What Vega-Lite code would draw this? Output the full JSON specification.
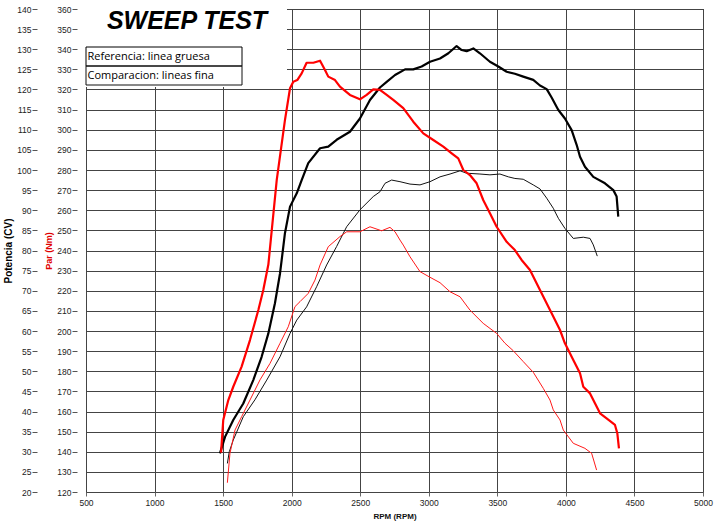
{
  "$schema": "https://vega.github.io/schema/vega-lite/v6.json",
  "width": 617,
  "height": 483,
  "autosize": {"type": "none"},
  "padding": {"left": 86, "top": 9, "right": 13, "bottom": 38},
  "background": "white",
  "datasets": {
    "potencia": [
      {"rpm":1477,"cv":29.6,"tipo":"Referencia: linea gruesa"},{"rpm":1514,"cv":33.7,"tipo":"Referencia: linea gruesa"},{"rpm":1574,"cv":37.9,"tipo":"Referencia: linea gruesa"},{"rpm":1647,"cv":42.0,"tipo":"Referencia: linea gruesa"},{"rpm":1720,"cv":47.8,"tipo":"Referencia: linea gruesa"},{"rpm":1781,"cv":53.6,"tipo":"Referencia: linea gruesa"},{"rpm":1830,"cv":59.4,"tipo":"Referencia: linea gruesa"},{"rpm":1878,"cv":66.9,"tipo":"Referencia: linea gruesa"},{"rpm":1915,"cv":74.3,"tipo":"Referencia: linea gruesa"},{"rpm":1927,"cv":77.6,"tipo":"Referencia: linea gruesa"},{"rpm":1951,"cv":84.3,"tipo":"Referencia: linea gruesa"},{"rpm":1988,"cv":90.9,"tipo":"Referencia: linea gruesa"},{"rpm":2037,"cv":94.2,"tipo":"Referencia: linea gruesa"},{"rpm":2073,"cv":97.5,"tipo":"Referencia: linea gruesa"},{"rpm":2121,"cv":101.7,"tipo":"Referencia: linea gruesa"},{"rpm":2207,"cv":105.4,"tipo":"Referencia: linea gruesa"},{"rpm":2267,"cv":105.8,"tipo":"Referencia: linea gruesa"},{"rpm":2328,"cv":107.5,"tipo":"Referencia: linea gruesa"},{"rpm":2425,"cv":109.5,"tipo":"Referencia: linea gruesa"},{"rpm":2498,"cv":112.8,"tipo":"Referencia: linea gruesa"},{"rpm":2571,"cv":117.4,"tipo":"Referencia: linea gruesa"},{"rpm":2644,"cv":120.5,"tipo":"Referencia: linea gruesa"},{"rpm":2693,"cv":121.9,"tipo":"Referencia: linea gruesa"},{"rpm":2754,"cv":123.6,"tipo":"Referencia: linea gruesa"},{"rpm":2827,"cv":125.0,"tipo":"Referencia: linea gruesa"},{"rpm":2887,"cv":125.0,"tipo":"Referencia: linea gruesa"},{"rpm":2948,"cv":125.7,"tipo":"Referencia: linea gruesa"},{"rpm":3009,"cv":126.9,"tipo":"Referencia: linea gruesa"},{"rpm":3082,"cv":127.7,"tipo":"Referencia: linea gruesa"},{"rpm":3143,"cv":129.0,"tipo":"Referencia: linea gruesa"},{"rpm":3203,"cv":130.8,"tipo":"Referencia: linea gruesa"},{"rpm":3240,"cv":129.8,"tipo":"Referencia: linea gruesa"},{"rpm":3276,"cv":129.5,"tipo":"Referencia: linea gruesa"},{"rpm":3325,"cv":130.2,"tipo":"Referencia: linea gruesa"},{"rpm":3373,"cv":129.0,"tipo":"Referencia: linea gruesa"},{"rpm":3446,"cv":126.9,"tipo":"Referencia: linea gruesa"},{"rpm":3507,"cv":125.7,"tipo":"Referencia: linea gruesa"},{"rpm":3568,"cv":124.4,"tipo":"Referencia: linea gruesa"},{"rpm":3628,"cv":123.9,"tipo":"Referencia: linea gruesa"},{"rpm":3689,"cv":123.2,"tipo":"Referencia: linea gruesa"},{"rpm":3762,"cv":122.4,"tipo":"Referencia: linea gruesa"},{"rpm":3811,"cv":121.0,"tipo":"Referencia: linea gruesa"},{"rpm":3860,"cv":120.1,"tipo":"Referencia: linea gruesa"},{"rpm":3896,"cv":118.0,"tipo":"Referencia: linea gruesa"},{"rpm":3932,"cv":115.7,"tipo":"Referencia: linea gruesa"},{"rpm":3945,"cv":114.9,"tipo":"Referencia: linea gruesa"},{"rpm":3993,"cv":112.8,"tipo":"Referencia: linea gruesa"},{"rpm":4042,"cv":109.9,"tipo":"Referencia: linea gruesa"},{"rpm":4079,"cv":106.2,"tipo":"Referencia: linea gruesa"},{"rpm":4103,"cv":103.3,"tipo":"Referencia: linea gruesa"},{"rpm":4139,"cv":100.8,"tipo":"Referencia: linea gruesa"},{"rpm":4200,"cv":98.3,"tipo":"Referencia: linea gruesa"},{"rpm":4285,"cv":96.7,"tipo":"Referencia: linea gruesa"},{"rpm":4346,"cv":95.0,"tipo":"Referencia: linea gruesa"},{"rpm":4370,"cv":93.4,"tipo":"Referencia: linea gruesa"},{"rpm":4382,"cv":88.4,"tipo":"Referencia: linea gruesa"},
      {"rpm":1531,"cv":27.1,"tipo":"Comparacion: lineas fina"},{"rpm":1545,"cv":30.0,"tipo":"Comparacion: lineas fina"},{"rpm":1574,"cv":32.9,"tipo":"Comparacion: lineas fina"},{"rpm":1647,"cv":38.7,"tipo":"Comparacion: lineas fina"},{"rpm":1732,"cv":42.9,"tipo":"Comparacion: lineas fina"},{"rpm":1818,"cv":47.8,"tipo":"Comparacion: lineas fina"},{"rpm":1915,"cv":53.6,"tipo":"Comparacion: lineas fina"},{"rpm":1988,"cv":59.4,"tipo":"Comparacion: lineas fina"},{"rpm":2037,"cv":62.7,"tipo":"Comparacion: lineas fina"},{"rpm":2109,"cv":66.0,"tipo":"Comparacion: lineas fina"},{"rpm":2182,"cv":71.0,"tipo":"Comparacion: lineas fina"},{"rpm":2255,"cv":76.4,"tipo":"Comparacion: lineas fina"},{"rpm":2328,"cv":81.0,"tipo":"Comparacion: lineas fina"},{"rpm":2401,"cv":85.9,"tipo":"Comparacion: lineas fina"},{"rpm":2498,"cv":90.1,"tipo":"Comparacion: lineas fina"},{"rpm":2595,"cv":93.4,"tipo":"Comparacion: lineas fina"},{"rpm":2644,"cv":94.6,"tipo":"Comparacion: lineas fina"},{"rpm":2681,"cv":96.7,"tipo":"Comparacion: lineas fina"},{"rpm":2729,"cv":97.5,"tipo":"Comparacion: lineas fina"},{"rpm":2790,"cv":97.1,"tipo":"Comparacion: lineas fina"},{"rpm":2863,"cv":96.5,"tipo":"Comparacion: lineas fina"},{"rpm":2936,"cv":96.3,"tipo":"Comparacion: lineas fina"},{"rpm":3009,"cv":97.1,"tipo":"Comparacion: lineas fina"},{"rpm":3082,"cv":98.3,"tipo":"Comparacion: lineas fina"},{"rpm":3155,"cv":99.0,"tipo":"Comparacion: lineas fina"},{"rpm":3228,"cv":99.8,"tipo":"Comparacion: lineas fina"},{"rpm":3276,"cv":99.2,"tipo":"Comparacion: lineas fina"},{"rpm":3373,"cv":99.0,"tipo":"Comparacion: lineas fina"},{"rpm":3446,"cv":98.8,"tipo":"Comparacion: lineas fina"},{"rpm":3519,"cv":99.0,"tipo":"Comparacion: lineas fina"},{"rpm":3580,"cv":98.3,"tipo":"Comparacion: lineas fina"},{"rpm":3628,"cv":97.9,"tipo":"Comparacion: lineas fina"},{"rpm":3689,"cv":97.7,"tipo":"Comparacion: lineas fina"},{"rpm":3762,"cv":96.3,"tipo":"Comparacion: lineas fina"},{"rpm":3811,"cv":95.3,"tipo":"Comparacion: lineas fina"},{"rpm":3860,"cv":93.0,"tipo":"Comparacion: lineas fina"},{"rpm":3908,"cv":90.5,"tipo":"Comparacion: lineas fina"},{"rpm":3945,"cv":88.0,"tipo":"Comparacion: lineas fina"},{"rpm":3993,"cv":85.5,"tipo":"Comparacion: lineas fina"},{"rpm":4054,"cv":83.0,"tipo":"Comparacion: lineas fina"},{"rpm":4127,"cv":83.3,"tipo":"Comparacion: lineas fina"},{"rpm":4176,"cv":83.0,"tipo":"Comparacion: lineas fina"},{"rpm":4200,"cv":81.4,"tipo":"Comparacion: lineas fina"},{"rpm":4229,"cv":78.6,"tipo":"Comparacion: lineas fina"}
    ],
    "par": [
      {"rpm":1485,"nm":139.6,"tipo":"Referencia: linea gruesa"},{"rpm":1501,"nm":155.8,"tipo":"Referencia: linea gruesa"},{"rpm":1538,"nm":165.7,"tipo":"Referencia: linea gruesa"},{"rpm":1574,"nm":172.3,"tipo":"Referencia: linea gruesa"},{"rpm":1635,"nm":182.3,"tipo":"Referencia: linea gruesa"},{"rpm":1696,"nm":195.5,"tipo":"Referencia: linea gruesa"},{"rpm":1757,"nm":210.4,"tipo":"Referencia: linea gruesa"},{"rpm":1793,"nm":220.4,"tipo":"Referencia: linea gruesa"},{"rpm":1830,"nm":233.0,"tipo":"Referencia: linea gruesa"},{"rpm":1891,"nm":275.0,"tipo":"Referencia: linea gruesa"},{"rpm":1951,"nm":304.8,"tipo":"Referencia: linea gruesa"},{"rpm":1988,"nm":320.6,"tipo":"Referencia: linea gruesa"},{"rpm":2012,"nm":323.9,"tipo":"Referencia: linea gruesa"},{"rpm":2041,"nm":324.7,"tipo":"Referencia: linea gruesa"},{"rpm":2073,"nm":328.0,"tipo":"Referencia: linea gruesa"},{"rpm":2109,"nm":333.3,"tipo":"Referencia: linea gruesa"},{"rpm":2158,"nm":333.3,"tipo":"Referencia: linea gruesa"},{"rpm":2207,"nm":334.3,"tipo":"Referencia: linea gruesa"},{"rpm":2243,"nm":329.7,"tipo":"Referencia: linea gruesa"},{"rpm":2267,"nm":326.4,"tipo":"Referencia: linea gruesa"},{"rpm":2316,"nm":324.7,"tipo":"Referencia: linea gruesa"},{"rpm":2352,"nm":321.4,"tipo":"Referencia: linea gruesa"},{"rpm":2425,"nm":317.3,"tipo":"Referencia: linea gruesa"},{"rpm":2498,"nm":315.1,"tipo":"Referencia: linea gruesa"},{"rpm":2547,"nm":317.3,"tipo":"Referencia: linea gruesa"},{"rpm":2595,"nm":320.1,"tipo":"Referencia: linea gruesa"},{"rpm":2644,"nm":319.8,"tipo":"Referencia: linea gruesa"},{"rpm":2693,"nm":317.3,"tipo":"Referencia: linea gruesa"},{"rpm":2741,"nm":314.8,"tipo":"Referencia: linea gruesa"},{"rpm":2814,"nm":310.7,"tipo":"Referencia: linea gruesa"},{"rpm":2887,"nm":304.0,"tipo":"Referencia: linea gruesa"},{"rpm":2960,"nm":298.2,"tipo":"Referencia: linea gruesa"},{"rpm":3033,"nm":294.9,"tipo":"Referencia: linea gruesa"},{"rpm":3106,"nm":291.6,"tipo":"Referencia: linea gruesa"},{"rpm":3167,"nm":288.3,"tipo":"Referencia: linea gruesa"},{"rpm":3215,"nm":285.8,"tipo":"Referencia: linea gruesa"},{"rpm":3252,"nm":280.0,"tipo":"Referencia: linea gruesa"},{"rpm":3300,"nm":277.5,"tipo":"Referencia: linea gruesa"},{"rpm":3349,"nm":273.4,"tipo":"Referencia: linea gruesa"},{"rpm":3397,"nm":265.1,"tipo":"Referencia: linea gruesa"},{"rpm":3446,"nm":258.5,"tipo":"Referencia: linea gruesa"},{"rpm":3495,"nm":251.8,"tipo":"Referencia: linea gruesa"},{"rpm":3568,"nm":244.3,"tipo":"Referencia: linea gruesa"},{"rpm":3628,"nm":240.2,"tipo":"Referencia: linea gruesa"},{"rpm":3677,"nm":235.3,"tipo":"Referencia: linea gruesa"},{"rpm":3738,"nm":230.3,"tipo":"Referencia: linea gruesa"},{"rpm":3811,"nm":220.4,"tipo":"Referencia: linea gruesa"},{"rpm":3896,"nm":208.8,"tipo":"Referencia: linea gruesa"},{"rpm":3957,"nm":200.5,"tipo":"Referencia: linea gruesa"},{"rpm":3993,"nm":193.9,"tipo":"Referencia: linea gruesa"},{"rpm":4042,"nm":187.2,"tipo":"Referencia: linea gruesa"},{"rpm":4103,"nm":179.0,"tipo":"Referencia: linea gruesa"},{"rpm":4127,"nm":172.3,"tipo":"Referencia: linea gruesa"},{"rpm":4176,"nm":169.0,"tipo":"Referencia: linea gruesa"},{"rpm":4212,"nm":164.1,"tipo":"Referencia: linea gruesa"},{"rpm":4249,"nm":159.1,"tipo":"Referencia: linea gruesa"},{"rpm":4297,"nm":156.6,"tipo":"Referencia: linea gruesa"},{"rpm":4358,"nm":153.3,"tipo":"Referencia: linea gruesa"},{"rpm":4375,"nm":149.2,"tipo":"Referencia: linea gruesa"},{"rpm":4387,"nm":141.7,"tipo":"Referencia: linea gruesa"},
      {"rpm":1531,"nm":124.6,"tipo":"Comparacion: lineas fina"},{"rpm":1550,"nm":139.2,"tipo":"Comparacion: lineas fina"},{"rpm":1587,"nm":150.8,"tipo":"Comparacion: lineas fina"},{"rpm":1635,"nm":157.4,"tipo":"Comparacion: lineas fina"},{"rpm":1696,"nm":165.7,"tipo":"Comparacion: lineas fina"},{"rpm":1769,"nm":175.7,"tipo":"Comparacion: lineas fina"},{"rpm":1842,"nm":183.9,"tipo":"Comparacion: lineas fina"},{"rpm":1915,"nm":193.9,"tipo":"Comparacion: lineas fina"},{"rpm":1975,"nm":202.1,"tipo":"Comparacion: lineas fina"},{"rpm":2024,"nm":212.1,"tipo":"Comparacion: lineas fina"},{"rpm":2061,"nm":214.6,"tipo":"Comparacion: lineas fina"},{"rpm":2121,"nm":218.7,"tipo":"Comparacion: lineas fina"},{"rpm":2170,"nm":225.3,"tipo":"Comparacion: lineas fina"},{"rpm":2207,"nm":232.8,"tipo":"Comparacion: lineas fina"},{"rpm":2267,"nm":241.9,"tipo":"Comparacion: lineas fina"},{"rpm":2352,"nm":246.9,"tipo":"Comparacion: lineas fina"},{"rpm":2401,"nm":249.3,"tipo":"Comparacion: lineas fina"},{"rpm":2498,"nm":249.3,"tipo":"Comparacion: lineas fina"},{"rpm":2571,"nm":251.8,"tipo":"Comparacion: lineas fina"},{"rpm":2656,"nm":249.8,"tipo":"Comparacion: lineas fina"},{"rpm":2717,"nm":251.5,"tipo":"Comparacion: lineas fina"},{"rpm":2754,"nm":249.3,"tipo":"Comparacion: lineas fina"},{"rpm":2790,"nm":245.2,"tipo":"Comparacion: lineas fina"},{"rpm":2814,"nm":242.7,"tipo":"Comparacion: lineas fina"},{"rpm":2863,"nm":236.9,"tipo":"Comparacion: lineas fina"},{"rpm":2936,"nm":229.5,"tipo":"Comparacion: lineas fina"},{"rpm":3009,"nm":226.7,"tipo":"Comparacion: lineas fina"},{"rpm":3082,"nm":224.0,"tipo":"Comparacion: lineas fina"},{"rpm":3155,"nm":219.5,"tipo":"Comparacion: lineas fina"},{"rpm":3228,"nm":217.0,"tipo":"Comparacion: lineas fina"},{"rpm":3300,"nm":210.4,"tipo":"Comparacion: lineas fina"},{"rpm":3397,"nm":203.8,"tipo":"Comparacion: lineas fina"},{"rpm":3495,"nm":198.8,"tipo":"Comparacion: lineas fina"},{"rpm":3556,"nm":193.9,"tipo":"Comparacion: lineas fina"},{"rpm":3616,"nm":190.2,"tipo":"Comparacion: lineas fina"},{"rpm":3689,"nm":184.8,"tipo":"Comparacion: lineas fina"},{"rpm":3762,"nm":179.5,"tipo":"Comparacion: lineas fina"},{"rpm":3835,"nm":171.5,"tipo":"Comparacion: lineas fina"},{"rpm":3884,"nm":165.7,"tipo":"Comparacion: lineas fina"},{"rpm":3908,"nm":160.8,"tipo":"Comparacion: lineas fina"},{"rpm":3957,"nm":155.8,"tipo":"Comparacion: lineas fina"},{"rpm":3981,"nm":150.8,"tipo":"Comparacion: lineas fina"},{"rpm":4054,"nm":144.2,"tipo":"Comparacion: lineas fina"},{"rpm":4139,"nm":141.7,"tipo":"Comparacion: lineas fina"},{"rpm":4188,"nm":139.2,"tipo":"Comparacion: lineas fina"},{"rpm":4224,"nm":130.9,"tipo":"Comparacion: lineas fina"}
    ]
  },
  "layer": [
    {
      "data": {"name": "potencia"},
      "mark": {"type": "line", "strokeJoin": "round"},
      "encoding": {
        "x": {
          "field": "rpm", "type": "quantitative",
          "scale": {"domain": [500, 5000], "nice": false, "zero": false},
          "axis": {
            "title": "RPM (RPM)", "format": "d",
            "values": [500,750,1000,1250,1500,1750,2000,2250,2500,2750,3000,3250,3500,3750,4000,4250,4500,4750,5000],
            "domain": false, "tickSize": 4, "tickColor": "#666", "labelPadding": 2,
            "labelFont": "Liberation Sans", "labelFontSize": 8.5, "labelColor": "#222",
            "labelFlush": false, "labelOverlap": false,
            "titleFont": "Liberation Sans", "titleFontSize": 8, "titleFontWeight": "bold", "titleColor": "#111", "titlePadding": 6,
            "grid": true, "gridColor": "#444", "gridWidth": 1
          }
        },
        "y": {
          "field": "cv", "type": "quantitative",
          "scale": {"domain": [20, 140], "nice": false, "zero": false},
          "axis": {
            "orient": "left", "offset": 49, "title": "Potencia (CV)",
            "values": [20,25,30,35,40,45,50,55,60,65,70,75,80,85,90,95,100,105,110,115,120,125,130,135,140],
            "domain": false, "tickSize": 5, "tickColor": "#555", "labelPadding": 1,
            "labelFont": "Liberation Sans", "labelFontSize": 8.5, "labelColor": "#222",
            "labelFlush": false, "labelOverlap": false,
            "titleFont": "Liberation Sans", "titleFontSize": 10, "titleFontWeight": "bold", "titleColor": "black", "titlePadding": 3,
            "grid": true, "gridColor": "#444", "gridWidth": 1
          }
        },
        "strokeWidth": {
          "field": "tipo", "type": "nominal",
          "scale": {"domain": ["Referencia: linea gruesa", "Comparacion: lineas fina"], "range": [2.2, 1]},
          "legend": null
        },
        "stroke": {
          "field": "tipo", "type": "nominal",
          "scale": {"domain": ["Referencia: linea gruesa", "Comparacion: lineas fina"], "range": ["#000000", "#111111"]},
          "legend": {
            "title": "SWEEP TEST",
            "orient": "top-left", "offset": 0, "padding": 0,
            "fillColor": "white",
            "titleFont": "Liberation Sans", "titleFontSize": 25, "titleFontWeight": "bold", "titleFontStyle": "italic", "titleColor": "black",
            "titleAnchor": "middle", "titleAlign": "center", "titlePadding": 17, "titleLimit": 0,
            "symbolType": "M -5.5 -9.5 H 150.5 V 9.5 H -5.5 Z M 193.5 0 L 193.5 0",
            "symbolSize": 4, "symbolStrokeWidth": 1, "symbolOffset": 0, "symbolFillColor": "transparent",
            "labelOffset": -9.5, "labelFont": "Open Sans", "labelFontSize": 11, "labelColor": "black", "labelLimit": 0,
            "rowPadding": -4, "direction": "vertical"
          }
        }
      }
    },
    {
      "data": {"name": "par"},
      "mark": {"type": "line", "strokeJoin": "round"},
      "encoding": {
        "x": {"field": "rpm", "type": "quantitative"},
        "y": {
          "field": "nm", "type": "quantitative",
          "scale": {"domain": [120, 360], "nice": false, "zero": false},
          "axis": {
            "orient": "left", "offset": 9, "title": "Par (Nm)",
            "values": [120,130,140,150,160,170,180,190,200,210,220,230,240,250,260,270,280,290,300,310,320,330,340,350,360],
            "domain": false, "tickSize": 5, "tickColor": "#555", "labelPadding": 1,
            "labelFont": "Liberation Sans", "labelFontSize": 8.5, "labelColor": "#222",
            "labelFlush": false, "labelOverlap": false,
            "titleFont": "Liberation Sans", "titleFontSize": 9, "titleFontWeight": "bold", "titleColor": "#e00000", "titlePadding": 3,
            "grid": false
          }
        },
        "strokeWidth": {
          "field": "tipo", "type": "nominal",
          "scale": {"domain": ["Referencia: linea gruesa", "Comparacion: lineas fina"], "range": [2.2, 1]},
          "legend": null
        },
        "stroke": {
          "field": "tipo", "type": "nominal",
          "scale": {"domain": ["Referencia: linea gruesa", "Comparacion: lineas fina"], "range": ["#ff0000", "#ff1a1a"]},
          "legend": null
        }
      }
    }
  ],
  "resolve": {"scale": {"y": "independent", "stroke": "independent"}},
  "config": {
    "view": {"stroke": "black", "strokeWidth": 1}
  }
}
